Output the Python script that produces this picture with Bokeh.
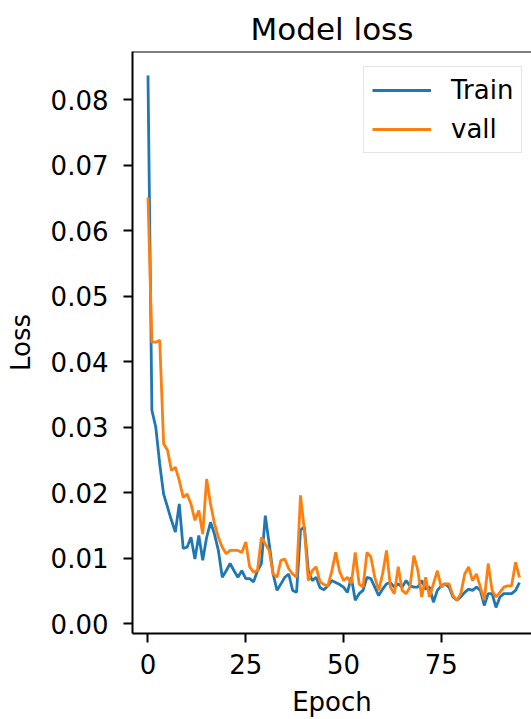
from bokeh.plotting import figure
from bokeh.models import Range1d, FixedTicker, PrintfTickFormatter, Legend, LegendItem, Span
from bokeh.embed import file_html
from bokeh.resources import INLINE

epochs = list(range(96))

train_loss = [
    0.0837, 0.0326, 0.0300, 0.0244, 0.0198, 0.0178, 0.0158, 0.0140, 0.0183, 0.0115,
    0.0117, 0.0132, 0.0099, 0.0135, 0.0097, 0.0132, 0.0155, 0.0137, 0.0112, 0.0071,
    0.0081, 0.0092, 0.0081, 0.0071, 0.0081, 0.0069, 0.0069, 0.0064, 0.0081, 0.0092,
    0.0165, 0.0122, 0.0076, 0.0051, 0.0061, 0.0071, 0.0076, 0.0051, 0.0048, 0.0143,
    0.0148, 0.0081, 0.0066, 0.0071, 0.0055, 0.0052, 0.0058, 0.0066, 0.0063, 0.0060,
    0.0056, 0.0048, 0.0071, 0.0036, 0.0046, 0.0051, 0.0071, 0.0069, 0.0056, 0.0043,
    0.0053, 0.0061, 0.0063, 0.0056, 0.0061, 0.0056, 0.0066, 0.0058, 0.0056, 0.0056,
    0.0066, 0.0053, 0.0056, 0.0033, 0.0051, 0.0058, 0.0061, 0.0056, 0.0041, 0.0036,
    0.0041, 0.0048, 0.0053, 0.0051, 0.0056, 0.0051, 0.0028, 0.0046, 0.0046, 0.0025,
    0.0041, 0.0046, 0.0046, 0.0046, 0.0051, 0.0063,
]

val_loss = [
    0.0651, 0.0430, 0.0430, 0.0433, 0.0275, 0.0265, 0.0234, 0.0239, 0.0219, 0.0193,
    0.0198, 0.0183, 0.0158, 0.0173, 0.0137, 0.0221, 0.0183, 0.0153, 0.0132, 0.0117,
    0.0107, 0.0112, 0.0112, 0.0112, 0.0109, 0.0125, 0.0087, 0.0079, 0.0081, 0.0132,
    0.0122, 0.0112, 0.0076, 0.0071, 0.0097, 0.0099, 0.0084, 0.0076, 0.0071, 0.0196,
    0.0143, 0.0066, 0.0081, 0.0087, 0.0064, 0.0060, 0.0058, 0.0080, 0.0109, 0.0080,
    0.0066, 0.0071, 0.0061, 0.0109, 0.0061, 0.0056, 0.0109, 0.0102, 0.0071, 0.0051,
    0.0076, 0.0112, 0.0056, 0.0046, 0.0087, 0.0051, 0.0046, 0.0056, 0.0104, 0.0082,
    0.0041, 0.0071, 0.0041, 0.0061, 0.0081, 0.0056, 0.0061, 0.0061, 0.0043, 0.0036,
    0.0046, 0.0076, 0.0087, 0.0066, 0.0076, 0.0056, 0.0036, 0.0092, 0.0051, 0.0041,
    0.0048, 0.0056, 0.0058, 0.0058, 0.0094, 0.0071,
]

x_ticks = [0, 25, 50, 75]
y_ticks = [0.00, 0.01, 0.02, 0.03, 0.04, 0.05, 0.06, 0.07, 0.08]
series_names = ["Train", "vall"]

FONT = "DejaVu Sans"

p = figure(width=531, height=719, output_backend="svg", toolbar_location=None,
           x_range=Range1d(-3.96, 98.08), y_range=Range1d(-0.00148, 0.08737),
           min_border_left=132, min_border_right=0, min_border_top=51,
           min_border_bottom=86, title="Model loss")

p.title.text_font = FONT
p.title.text_font_size = "31px"
p.title.text_font_style = "normal"
p.title.text_color = "#000000"
p.title.align = "center"
p.title.standoff = 9

p.outline_line_color = None
p.grid.visible = False
p.background_fill_color = "white"
p.border_fill_color = "white"

for ax in (p.xaxis[0], p.yaxis[0]):
    ax.axis_line_color = "black"
    ax.axis_line_width = 2
    ax.major_tick_line_color = "black"
    ax.major_tick_line_width = 2
    ax.major_tick_out = 9
    ax.major_tick_in = 0
    ax.minor_tick_out = 0
    ax.minor_tick_in = 0
    ax.major_label_text_font = FONT
    ax.major_label_text_font_size = "26px"
    ax.major_label_text_color = "#000000"
    ax.axis_label_text_font = FONT
    ax.axis_label_text_font_size = "26px"
    ax.axis_label_text_font_style = "normal"
    ax.axis_label_text_color = "#000000"

p.xaxis.ticker = FixedTicker(ticks=x_ticks)
p.yaxis.ticker = FixedTicker(ticks=y_ticks)
p.yaxis.formatter = PrintfTickFormatter(format="%.2f")
p.xaxis.axis_label = "Epoch"
p.yaxis.axis_label = "Loss"
p.xaxis.major_label_standoff = 11
p.yaxis.major_label_standoff = 15
p.xaxis.axis_label_standoff = 10
p.yaxis.axis_label_standoff = 12

top_spine = Span(location=0.08737, dimension="width", line_color="black", line_width=2)
p.add_layout(top_spine)

r1 = p.line(epochs, train_loss, line_color="#1f77b4", line_width=2.8)
r2 = p.line(epochs, val_loss, line_color="#ff7f0e", line_width=2.8)

legend = Legend(items=[LegendItem(label=series_names[0], renderers=[r1]),
                       LegendItem(label=series_names[1], renderers=[r2])],
                location=(231, 480))
legend.label_text_font = FONT
legend.label_text_font_size = "26px"
legend.label_text_color = "#000000"
legend.glyph_width = 59
legend.glyph_height = 30
legend.label_height = 30
legend.label_standoff = 20
legend.padding = 8
legend.spacing = 9
legend.margin = 0
legend.border_line_color = "#cccccc"
legend.border_line_width = 1.5
legend.background_fill_alpha = 0.8
p.add_layout(legend)

open("out.html", "w").write(file_html(p, INLINE))
